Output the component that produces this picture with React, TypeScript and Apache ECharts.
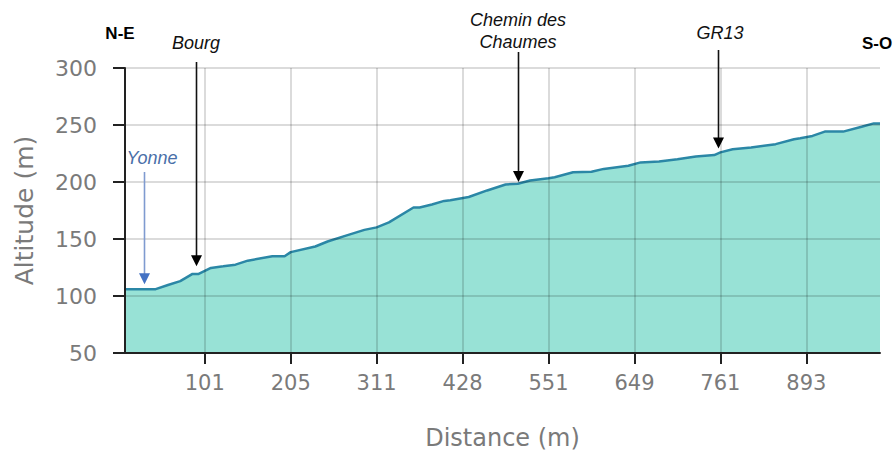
import React, { useEffect, useRef } from "react";
import * as echarts from "echarts";

// Sample index along the profile (points are evenly spaced on screen)
const sampleIndex = [0, 5, 7, 9, 11, 12, 14, 16, 18, 20, 24, 26, 27, 31, 33, 36, 39, 41, 43, 47, 48, 50, 52, 53, 56, 59, 62, 64, 66, 69, 70, 73, 76, 78, 82, 84, 87, 90, 93, 96, 97, 99, 102, 106, 109, 110, 112, 114, 117, 120, 122, 123];
const altitude = [106, 106, 109.6, 113, 119.4, 119.4, 124.6, 126, 127.5, 131, 134.8, 134.8, 138.5, 143.4, 147.8, 153, 158, 160.2, 164.6, 177.6, 177.6, 180.2, 183.4, 184, 186.8, 192.6, 197.8, 198.4, 201.3, 203.3, 204.2, 208.5, 209, 211.5, 214.3, 217.2, 218, 220, 222.4, 223.6, 226, 228.8, 230.3, 233.2, 237.5, 238.4, 240.4, 244.2, 244.2, 248.4, 251.4, 251.4];

// Distance tick labels and the sample index where each sits
const tickIndex = [13, 27, 41, 55, 69, 83, 97, 111];
const tickLabels = ["101", "205", "311", "428", "551", "649", "761", "893"];

// Annotations
const annotLabels = ["Yonne", "Bourg", "Chemin des\nChaumes", "GR13"];
const annotIndex = [3.1, 11.6, 64, 96.6];
const annotTipAlt = [110.2, 126.1, 199.9, 229.4];

const AXIS_FONT = "'DejaVu Sans', Verdana, sans-serif";
const NOTE_FONT = "'Liberation Sans', Arial, sans-serif";

export default function App() {
  const ref = useRef<HTMLDivElement>(null);

  useEffect(() => {
    if (!ref.current) return;
    const chart = echarts.init(ref.current, undefined, { renderer: "svg" });
    const data = sampleIndex.map((x, i) => [x, altitude[i]]);
    chart.setOption({
      animation: false,
      backgroundColor: "#ffffff",
      grid: { left: 125, right: 15, top: 68, bottom: 99, containLabel: false },
      xAxis: {
        type: "value",
        min: 0,
        max: 123,
        z: 5,
        name: "Distance (m)",
        nameLocation: "middle",
        nameGap: 73,
        nameTextStyle: { fontFamily: AXIS_FONT, fontSize: 24, color: "#7a7a7a" },
        axisLine: { show: true, onZero: false, lineStyle: { color: "#222", width: 2 } },
        axisTick: { show: true, customValues: tickIndex, length: 11, lineStyle: { color: "#222", width: 2 } },
        axisLabel: {
          customValues: tickIndex,
          formatter: (v: number) => {
            const k = tickIndex.indexOf(Math.round(v));
            return k >= 0 ? tickLabels[k] : "";
          },
          fontFamily: AXIS_FONT,
          fontSize: 21,
          color: "#7a7a7a",
          margin: 19,
        },
        splitLine: { show: true, lineStyle: { color: "rgba(0,0,0,0.14)", width: 2 } },
      },
      yAxis: {
        type: "value",
        min: 50,
        max: 300,
        interval: 50,
        z: 5,
        name: "Altitude (m)",
        nameLocation: "middle",
        nameGap: 88,
        nameTextStyle: { fontFamily: AXIS_FONT, fontSize: 25, color: "#7a7a7a" },
        axisLine: { show: true, lineStyle: { color: "#222", width: 2 } },
        axisTick: { show: true, length: 12, lineStyle: { color: "#222", width: 2 } },
        axisLabel: { fontFamily: AXIS_FONT, fontSize: 22, color: "#7a7a7a", margin: 28 },
        splitLine: { show: true, lineStyle: { color: "rgba(0,0,0,0.14)", width: 2 } },
      },
      series: [
        {
          type: "line",
          z: 2,
          data,
          symbol: "none",
          lineStyle: { color: "#2b87a6", width: 2.5 },
          areaStyle: { color: "#98e2d6", opacity: 1, origin: "start" },
        },
      ],
    });

    const g: any[] = [];
    const noteStyle = (extra: any) => ({
      fontFamily: NOTE_FONT,
      fontSize: 18,
      fontStyle: "italic",
      fill: "#111",
      align: "center",
      verticalAlign: "middle",
      lineHeight: 22,
      ...extra,
    });
    const tops = [172, 62, 52, 50];
    const labelPos = [[152, 158], [196, 43], [518, 31], [720, 33]];
    annotLabels.forEach((label, i) => {
      const p = chart.convertToPixel({ gridIndex: 0 }, [annotIndex[i], annotTipAlt[i]]) as number[];
      const x = Math.round(p[0]) + 0.5;
      const tip = p[1];
      const isBlue = i === 0;
      g.push({
        type: "line",
        z: 100,
        shape: { x1: x, y1: tops[i], x2: x, y2: tip - 9 },
        style: { stroke: isBlue ? "#7f9bd0" : "#111", lineWidth: 1.6 },
      });
      g.push({
        type: "polygon",
        z: 100,
        shape: { points: [[x - 5.5, tip - 11], [x + 5.5, tip - 11], [x, tip]] },
        style: { fill: isBlue ? "#4472c4" : "#000" },
      });
      g.push({
        type: "text",
        z: 100,
        x: labelPos[i][0],
        y: labelPos[i][1],
        style: noteStyle({ text: label, fill: isBlue ? "#4a6fa8" : "#111" }),
      });
    });
    g.push({
      type: "text",
      z: 100,
      x: 120,
      y: 33,
      style: { text: "N-E", fontFamily: NOTE_FONT, fontSize: 17, fontWeight: "bold", fill: "#000", align: "center", verticalAlign: "middle" },
    });
    g.push({
      type: "text",
      z: 100,
      x: 877,
      y: 43,
      style: { text: "S-O", fontFamily: NOTE_FONT, fontSize: 17, fontWeight: "bold", fill: "#000", align: "center", verticalAlign: "middle" },
    });
    chart.setOption({ graphic: g });

    return () => chart.dispose();
  }, []);

  return (
    <div
      ref={ref}
      style={{ position: "fixed", left: 0, top: 0, width: 895, height: 455, background: "#fff" }}
    />
  );
}
